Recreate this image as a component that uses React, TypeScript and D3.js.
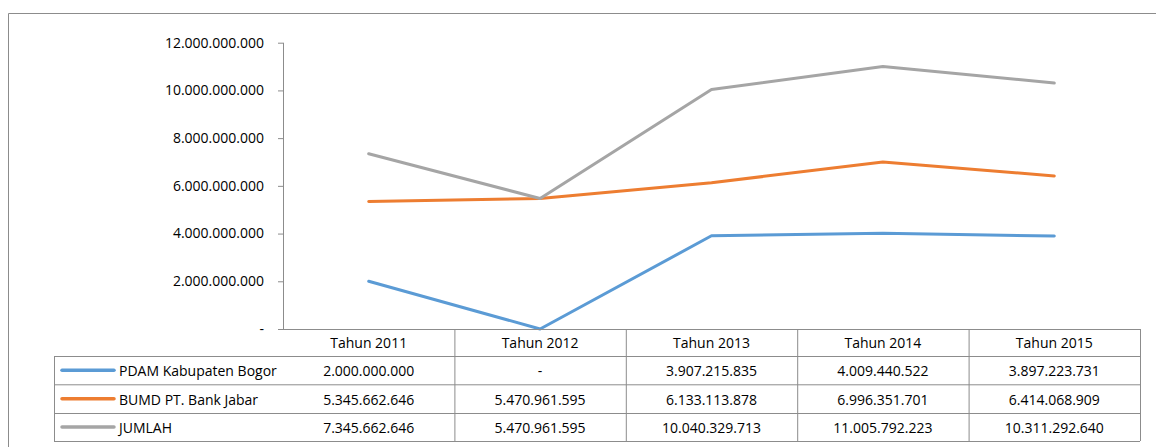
import React from "react";
import * as d3 from "d3";

const categories = ["Tahun 2011", "Tahun 2012", "Tahun 2013", "Tahun 2014", "Tahun 2015"];
const seriesNames = ["PDAM Kabupaten Bogor", "BUMD PT. Bank Jabar", "JUMLAH"];
const pdam = [2000000000, 0, 3907215835, 4009440522, 3897223731];
const bumd = [5345662646, 5470961595, 6133113878, 6996351701, 6414068909];
const jumlah = [7345662646, 5470961595, 10040329713, 11005792223, 10311292640];
const yTicks = [0, 2000000000, 4000000000, 6000000000, 8000000000, 10000000000, 12000000000];
const colors = ["#5B9BD5", "#ED7D31", "#A5A5A5"];

const fmt = (v: number) =>
  v === 0 ? "-" : Math.round(v).toString().replace(/\B(?=(\d{3})+(?!\d))/g, ".");

export default function App() {
  const W = 1156, H = 447;
  const left = 283, right = 1140, top = 42.7, bottom = 329;
  const x = d3.scaleBand<string>().domain(categories).range([left, right]);
  const y = d3.scaleLinear().domain([0, 12000000000]).range([bottom, top]);
  const series = [pdam, bumd, jumlah];
  const line = d3
    .line<number>()
    .x((_, i) => (x(categories[i]) as number) + x.bandwidth() / 2)
    .y((d) => y(d));
  const font = "'Open Sans', sans-serif";
  const fs = 14;
  const rowY = [329, 356, 384.3, 413, 441];
  const tableLeft = 54;
  const border = "#8c8c8c";

  return (
    <svg
      width={W}
      height={H}
      style={{ position: "absolute", left: 0, top: 0, display: "block", background: "#fff" }}
      fontFamily={font}
      fontSize={fs}
    >
      {/* outer frame */}
      <line x1={8.5} y1={13.5} x2={W} y2={13.5} stroke={border} strokeWidth={1} />
      <line x1={8.5} y1={13.5} x2={8.5} y2={H} stroke={border} strokeWidth={1} />

      {/* y axis */}
      <line x1={left + 0.5} y1={top} x2={left + 0.5} y2={bottom} stroke={border} />
      {yTicks.map((t) => (
        <g key={t}>
          <line x1={278} x2={left} y1={y(t) + 0.5} y2={y(t) + 0.5} stroke={border} />
          <text x={264} y={y(t)} dy="0.35em" textAnchor="end" fill="#000">
            {fmt(t)}
          </text>
        </g>
      ))}

      {/* lines */}
      {series.map((s, i) => (
        <path
          key={i}
          d={line(s) as string}
          fill="none"
          stroke={colors[i]}
          strokeWidth={3}
          strokeLinecap="round"
          strokeLinejoin="round"
        />
      ))}

      {/* data table */}
      <line x1={left} x2={right} y1={rowY[0] + 0.5} y2={rowY[0] + 0.5} stroke={border} />
      {rowY.slice(1).map((ry, i) => (
        <line key={"h" + i} x1={tableLeft} x2={right} y1={ry + 0.5} y2={ry + 0.5} stroke={border} />
      ))}
      <line x1={tableLeft + 0.5} x2={tableLeft + 0.5} y1={rowY[1]} y2={rowY[4]} stroke={border} />
      {categories.map((c, i) => (
        <line
          key={"v" + i}
          x1={(x(c) as number) + x.bandwidth() + 0.5}
          x2={(x(c) as number) + x.bandwidth() + 0.5}
          y1={rowY[0]}
          y2={rowY[4]}
          stroke={border}
        />
      ))}
      {categories.map((c) => (
        <text
          key={c}
          x={(x(c) as number) + x.bandwidth() / 2}
          y={(rowY[0] + rowY[1]) / 2 + 1}
          dy="0.35em"
          textAnchor="middle"
        >
          {c}
        </text>
      ))}
      {series.map((s, r) => {
        const cy = (rowY[r + 1] + rowY[r + 2]) / 2 + 1;
        return (
          <g key={"r" + r}>
            <line x1={62} x2={114} y1={cy - 1} y2={cy - 1} stroke={colors[r]} strokeWidth={3.5} strokeLinecap="round" />
            <text x={119} y={cy} dy="0.35em">
              {seriesNames[r]}
            </text>
            {s.map((v, i) => (
              <text
                key={i}
                x={(x(categories[i]) as number) + x.bandwidth() / 2}
                y={cy}
                dy="0.35em"
                textAnchor="middle"
              >
                {fmt(v)}
              </text>
            ))}
          </g>
        );
      })}
    </svg>
  );
}
